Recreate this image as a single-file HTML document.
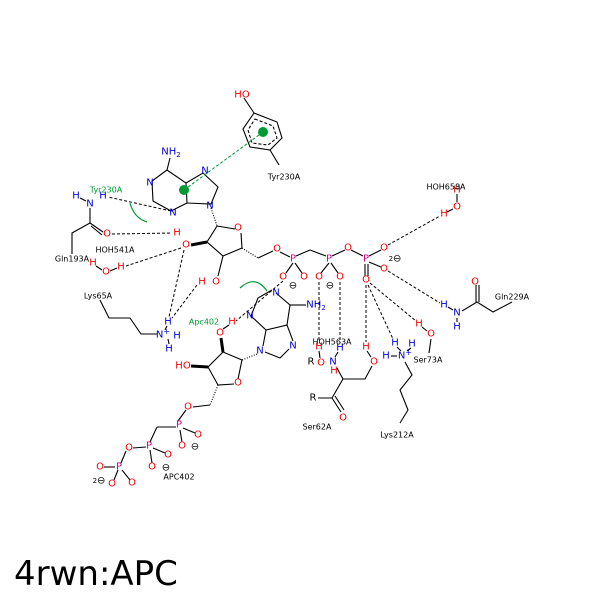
<!DOCTYPE html>
<html><head><style>
body{margin:0;background:#fff}
svg text{font-family:"DejaVu Sans","Liberation Sans",sans-serif}
.a{font-size:10px;text-anchor:middle;dominant-baseline:central}
.r{fill:#e00}.b{fill:#00c}.p{fill:#d0008a}.k{fill:#000}.g{fill:#093}
.l{font-size:8px;fill:#000;text-anchor:middle;dominant-baseline:central}
</style></head><body>
<svg width="600" height="600" viewBox="0 0 600 600" xmlns="http://www.w3.org/2000/svg">
<g stroke="#000" stroke-width="1.1" fill="none">
<polygon points="254,113 277,122 282,138 270,150 250,147 243,129"/>
<polygon points="255,119 273,126 277,138 268,145 252,143 248,130" stroke-dasharray="3,2"/>
<line x1="254" y1="113" x2="244" y2="98"/><line x1="270" y1="150" x2="279" y2="165"/>
<polyline points="167,170 152,181 153,201 171,211 187,203 186,183 167,170"/>
<line x1="167" y1="170" x2="170" y2="158"/>
<polyline points="186,183 203,173 218,187 211,204 187,203"/>
<line x1="211" y1="208" x2="217" y2="226" stroke-dasharray="1,1.5"/>
<polyline points="217,226 235,229"/><polyline points="241,233 242,248 223,256 207,242 217,226"/>
<line x1="207" y1="242" x2="191" y2="245" stroke-width="3"/>
<line x1="223" y1="256" x2="218" y2="276"/>
<line x1="242" y1="248" x2="258" y2="258" stroke-dasharray="1,1.5"/>
<line x1="258" y1="258" x2="273" y2="251"/>
<line x1="280" y1="252" x2="290" y2="257"/>
<line x1="296" y1="256" x2="310" y2="250"/><line x1="310" y1="250" x2="326" y2="256"/>
<line x1="332" y1="256" x2="345" y2="250"/><line x1="351" y1="250" x2="363" y2="256"/>
<line x1="293" y1="263" x2="286" y2="273"/><line x1="295" y1="263" x2="302" y2="273"/>
<line x1="329" y1="263" x2="321" y2="273"/><line x1="331" y1="263" x2="338" y2="273"/>
<line x1="369" y1="256" x2="381" y2="250"/><line x1="369" y1="262" x2="381" y2="267"/>
<line x1="365" y1="264" x2="365" y2="276"/><line x1="368" y1="264" x2="368" y2="276"/>
<polyline points="276,293 290,305 287,325 266,330 251,316 258,298 272,290"/>
<line x1="290" y1="305" x2="306" y2="305"/>
<polyline points="287,325 293,341"/><polyline points="289,349 280,358 265,352"/><line x1="263" y1="346" x2="266" y2="330"/>
<line x1="257" y1="354" x2="242" y2="360" stroke-dasharray="1,1.5"/>
<polyline points="242,360 238,379"/><polyline points="234,384 218,385 208,367 223,352 242,360"/>
<line x1="223" y1="352" x2="221" y2="338" stroke-width="3"/>
<line x1="208" y1="367" x2="191" y2="366" stroke-width="3"/>
<line x1="223" y1="329" x2="229" y2="325"/>
<line x1="218" y1="385" x2="210" y2="405" stroke-dasharray="1,1.5"/>
<line x1="210" y1="405" x2="193" y2="407"/><line x1="186" y1="410" x2="178" y2="421"/>
<line x1="176" y1="427" x2="157" y2="427"/><line x1="157" y1="427" x2="150" y2="442"/>
<line x1="183" y1="428" x2="195" y2="433"/><line x1="180" y1="430" x2="182" y2="442"/>
<line x1="146" y1="447" x2="133" y2="448"/><line x1="153" y1="448" x2="165" y2="453"/><line x1="150" y1="450" x2="152" y2="463"/>
<line x1="126" y1="451" x2="121" y2="463"/><line x1="115" y1="467" x2="104" y2="467"/><line x1="122" y1="470" x2="130" y2="480"/><line x1="118" y1="470" x2="114" y2="480"/>
<line x1="90" y1="208" x2="90" y2="223"/><line x1="90" y1="223" x2="103" y2="232"/><line x1="91" y1="226" x2="102" y2="235"/>
<polyline points="90,223 72,233 72,254"/>
<line x1="80" y1="198" x2="86" y2="201"/>
<polyline points="100,300 109,318 130,318 141,334 157,334"/>
<polyline points="462,311 477,302 493,312 512,302"/><line x1="476" y1="302" x2="476" y2="285"/><line x1="479" y1="302" x2="479" y2="285"/>
<line x1="448" y1="307" x2="453" y2="310"/><line x1="457" y1="318" x2="457" y2="322"/>
<line x1="431" y1="339" x2="429" y2="353"/><line x1="422" y1="327" x2="427" y2="331"/>
<polyline points="405,362 412,375 400,390 408,410 400,423"/><line x1="391" y1="356" x2="397" y2="356"/>
<line x1="397" y1="347" x2="401" y2="351"/><line x1="411" y1="348" x2="407" y2="351"/>
<polyline points="372,366 365,379 343,379 332,398 318,398"/><line x1="332" y1="398" x2="341" y2="412"/><line x1="335" y1="396" x2="344" y2="410"/>
<line x1="343" y1="379" x2="337" y2="368"/>
<line x1="367" y1="351" x2="371" y2="357"/>
<line x1="338" y1="352" x2="335" y2="357"/>
<line x1="319" y1="351" x2="320" y2="358"/>
<line x1="457" y1="194" x2="457" y2="202"/><line x1="453" y1="209" x2="447" y2="212"/>
<line x1="96" y1="266" x2="102" y2="270"/><line x1="110" y1="271" x2="117" y2="268"/>
<line x1="167" y1="326" x2="165" y2="330"/><line x1="168" y1="339" x2="169" y2="344"/>
</g>
<g stroke="#000" stroke-width="1" stroke-dasharray="3,2" fill="none">
<line x1="171" y1="211" x2="108" y2="197"/>
<line x1="112" y1="234" x2="172" y2="233"/>
<line x1="181" y1="248" x2="126" y2="266"/>
<line x1="184" y1="250" x2="169" y2="317"/>
<line x1="197" y1="285" x2="172" y2="318"/>
<line x1="283" y1="281" x2="236" y2="321"/>
<line x1="319" y1="282" x2="319" y2="342"/>
<line x1="340" y1="282" x2="340" y2="343"/>
<line x1="366" y1="285" x2="366" y2="342"/>
<line x1="368" y1="285" x2="393" y2="339"/>
<line x1="370" y1="283" x2="416" y2="321"/>
<line x1="388" y1="271" x2="440" y2="303"/>
<line x1="388" y1="245" x2="440" y2="216"/>
</g>
<line x1="263" y1="132" x2="184" y2="190" stroke="#093" stroke-width="1" stroke-dasharray="3,2"/>
<circle cx="263" cy="132" r="5" fill="#093"/><circle cx="184" cy="190" r="5" fill="#093"/>
<path d="M130,203 Q134,218 147,222" stroke="#093" fill="none" stroke-width="1.2"/>
<path d="M240,288 Q255,274 267,291" stroke="#093" fill="none" stroke-width="1.2"/>
<g class="a">
<text x="242" y="95" class="r">HO</text>
<text x="171" y="152" class="b">NH<tspan font-size="7" dy="3">2</tspan></text>
<text x="150" y="183" class="b">N</text><text x="173" y="213" class="b">N</text>
<text x="205" y="171" class="b">N</text><text x="210" y="206" class="b">N</text>
<text x="238" y="228" class="r">O</text><text x="186" y="245" class="r">O</text>
<text x="216" y="282" class="r">O</text><text x="202" y="282" class="r">H</text>
<text x="177" y="233" class="r">H</text>
<text x="277" y="249" class="r">O</text>
<text x="293" y="259" class="p">P</text><text x="329" y="259" class="p">P</text><text x="366" y="259" class="p">P</text>
<text x="348" y="248" class="r">O</text>
<text x="283" y="277" class="r">O</text><text x="304" y="277" class="r">O</text>
<text x="319" y="277" class="r">O</text><text x="340" y="277" class="r">O</text>
<text x="384" y="248" class="r">O</text><text x="384" y="269" class="r">O</text><text x="366" y="280" class="r">O</text>
<text x="293" y="286" class="k">⊖</text><text x="330" y="286" class="k">⊖</text>
<text x="395" y="259" class="k"><tspan font-size="7">2</tspan>⊖</text>
<text x="457" y="190" class="r">H</text><text x="457" y="207" class="r">O</text><text x="444" y="214" class="r">H</text>
<text x="475" y="282" class="r">O</text>
<text x="444" y="305" class="b">H</text><text x="457" y="313" class="b">N</text><text x="457" y="327" class="b">H</text>
<text x="419" y="324" class="r">H</text><text x="431" y="334" class="r">O</text>
<text x="395" y="343" class="b">H</text><text x="412" y="344" class="b">H</text>
<text x="386" y="356" class="b">H</text><text x="405" y="356" class="b">N<tspan font-size="8" dy="-4">+</tspan></text>
<text x="366" y="347" class="r">H</text><text x="374" y="362" class="r">O</text>
<text x="343" y="418" class="r">O</text><text x="313" y="398" class="k">R</text>
<text x="333" y="362" class="b">N</text><text x="340" y="348" class="b">H</text><text x="334" y="371" class="r">H</text>
<text x="319" y="347" class="r">H</text><text x="321" y="363" class="r">O</text><text x="311" y="362" class="k">R</text>
<text x="276" y="293" class="b">N</text><text x="250" y="316" class="b">N</text>
<text x="316" y="305" class="b">NH<tspan font-size="7" dy="3">2</tspan></text>
<text x="260" y="351" class="b">N</text><text x="293" y="346" class="b">N</text>
<text x="238" y="383" class="r">O</text><text x="220" y="333" class="r">O</text><text x="232" y="322" class="r">H</text>
<text x="183" y="366" class="r">HO</text>
<text x="188" y="407" class="r">O</text><text x="179" y="425" class="p">P</text>
<text x="198" y="435" class="r">O</text><text x="182" y="446" class="r">O</text><text x="195" y="447" class="k">⊖</text>
<text x="149" y="446" class="p">P</text><text x="129" y="448" class="r">O</text><text x="168" y="455" class="r">O</text><text x="152" y="467" class="r">O</text><text x="166" y="468" class="k">⊖</text>
<text x="119" y="467" class="p">P</text><text x="100" y="467" class="r">O</text><text x="132" y="483" class="r">O</text><text x="112" y="484" class="r">O</text>
<text x="99" y="481" class="k"><tspan font-size="7">2</tspan>⊖</text>
<text x="76" y="196" class="b">H</text><text x="90" y="204" class="b">N</text><text x="103" y="196" class="b">H</text>
<text x="107" y="234" class="r">O</text>
<text x="93" y="263" class="r">H</text><text x="106" y="272" class="r">O</text><text x="121" y="267" class="r">H</text>
<text x="168" y="322" class="b">H</text><text x="163" y="335" class="b">N<tspan font-size="8" dy="-4">+</tspan></text><text x="177" y="336" class="b">H</text><text x="169" y="349" class="b">H</text>
</g>
<g class="l">
<text x="284" y="177">Tyr230A</text>
<text x="106" y="190" fill="#093">Tyr230A</text>
<text x="115" y="250">HOH541A</text>
<text x="72" y="259">Gln193A</text>
<text x="98" y="296">Lys65A</text>
<text x="204" y="322" fill="#093">Apc402</text>
<text x="446" y="187">HOH658A</text>
<text x="512" y="297">Gln229A</text>
<text x="332" y="342">HOH563A</text>
<text x="428" y="360">Ser73A</text>
<text x="397" y="435">Lys212A</text>
<text x="317" y="427">Ser62A</text>
<text x="179" y="477">APC402</text>
</g>
<text x="14" y="585" font-size="34" style="font-family:'DejaVu Sans','Liberation Sans',sans-serif" fill="#000">4rwn:APC</text>
</svg>
</body></html>
